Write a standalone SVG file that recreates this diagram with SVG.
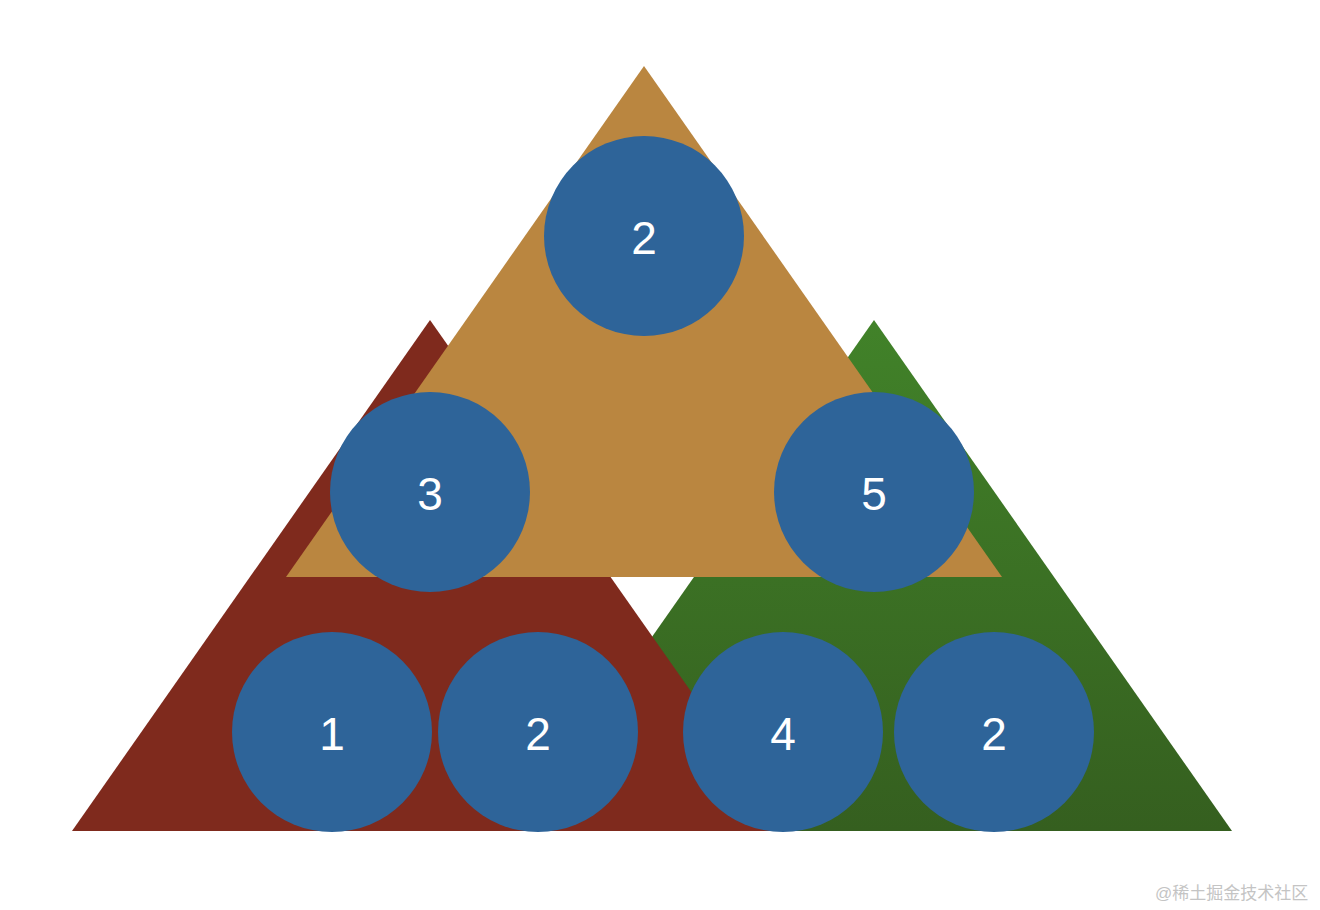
<svg xmlns="http://www.w3.org/2000/svg" width="1320" height="910" viewBox="0 0 1320 910">
<style>
.c{fill:#2E6499}
.t{font-family:"Helvetica Neue","Liberation Sans",Arial,sans-serif;font-size:46px;fill:#ffffff;text-anchor:middle;dominant-baseline:central;font-weight:300}
.wm{font-family:"Liberation Sans","Noto Sans CJK SC",sans-serif;font-size:17px;fill:#c4c4c4}
</style>
<defs>
<linearGradient id="gg" x1="0" y1="0" x2="0" y2="1">
<stop offset="0" stop-color="#418229"/>
<stop offset="1" stop-color="#355F1F"/>
</linearGradient>
</defs>
<rect width="1320" height="910" fill="#ffffff"/>
<g id="tri-green"><polygon points="874,320 516,831 1232,831" fill="url(#gg)"/></g>
<g id="tri-red"><polygon points="430,320 72,831 789,831" fill="#7F2A1D"/></g>
<g id="tri-tan"><polygon points="644,66 286,577 1002,577" fill="#BA8640"/></g>
<g id="n-top"><circle class="c" cx="644" cy="236" r="100"/><text class="t" x="644" y="238">2</text></g>
<g id="n-3"><circle class="c" cx="430" cy="492" r="100"/><text class="t" x="430" y="494">3</text></g>
<g id="n-5"><circle class="c" cx="874" cy="492" r="100"/><text class="t" x="874" y="494">5</text></g>
<g id="n-1"><circle class="c" cx="332" cy="732" r="100"/><text class="t" x="332" y="734">1</text></g>
<g id="n-2a"><circle class="c" cx="538" cy="732" r="100"/><text class="t" x="538" y="734">2</text></g>
<g id="n-4"><circle class="c" cx="783" cy="732" r="100"/><text class="t" x="783" y="734">4</text></g>
<g id="n-2b"><circle class="c" cx="994" cy="732" r="100"/><text class="t" x="994" y="734">2</text></g>
<g id="connectors"/>
<text class="wm" x="1155" y="899">@稀土掘金技术社区</text>
</svg>
